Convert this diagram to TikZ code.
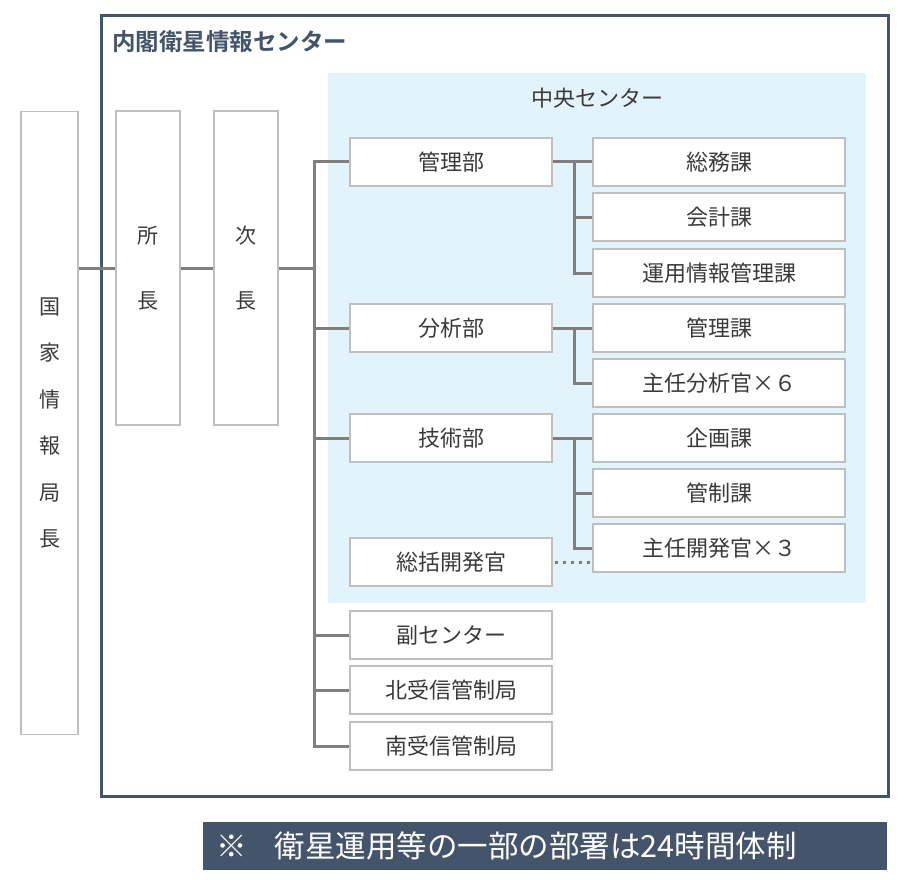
\documentclass[tikz,border=0pt]{standalone}
\usepackage{fontspec}
\setmainfont{Noto Sans CJK JP}
\newfontfamily\jpbold{Noto Sans CJK JP Bold}
\definecolor{navy}{HTML}{44546A}
\definecolor{boxgray}{HTML}{BFBFBF}
\definecolor{conngray}{HTML}{7F7F7F}
\definecolor{lightblue}{HTML}{E2F3FB}
\definecolor{txtgray}{HTML}{3A3A3A}
\begin{document}
\begin{tikzpicture}[x=1pt,y=-1pt,
  boxbase/.style={draw=boxgray, fill=white, line width=1.3pt, inner sep=0pt,
    text=txtgray, font=\fontsize{22}{26}\selectfont},
  midbox/.style={boxbase, minimum width=202pt, minimum height=48pt},
  rbox/.style={boxbase, minimum width=252pt, minimum height=48pt},
  vbox/.style={boxbase, align=center},
  conn/.style={draw=conngray, line width=3pt},
  dotconn/.style={draw=conngray, line width=3pt, dash pattern=on 3.5pt off 4.5pt}]
\useasboundingbox (0,0) rectangle (913,880);
% frames
\draw[navy, line width=3pt] (101,16) rectangle (888,796);
\node[anchor=west, text=navy, font=\jpbold\fontsize{23.5}{26}\selectfont, inner sep=0pt] (title) at (112,42) {内閣衛星情報センター};
\fill[lightblue] (328,73) rectangle (866,603);
\node[text=txtgray, font=\fontsize{22}{26}\selectfont, inner sep=0pt] (chuo) at (597,98) {中央センター};
% vertical boxes
\node[vbox, minimum width=57pt, minimum height=623pt, font=\fontsize{21}{46.5}\selectfont] (kokka) at (49.5,423) {国\\家\\情\\報\\局\\長};
\node[vbox, minimum width=64pt, minimum height=314pt, font=\fontsize{21}{65}\selectfont] (shocho) at (148,268) {所\\長};
\node[vbox, minimum width=64pt, minimum height=314pt, font=\fontsize{21}{65}\selectfont] (jicho) at (246,268) {次\\長};
% middle boxes
\node[midbox] (kanri) at (451,162) {管理部};
\node[midbox] (bunseki) at (451,328) {分析部};
\node[midbox] (gijutsu) at (451,438) {技術部};
\node[midbox] (sokatsu) at (451,562) {総括開発官};
\node[midbox] (fuku) at (451,635) {副センター};
\node[midbox] (kita) at (451,690) {北受信管制局};
\node[midbox] (minami) at (451,746) {南受信管制局};
% right boxes
\node[rbox] (somu) at (719,162) {総務課};
\node[rbox] (kaikei) at (719,217) {会計課};
\node[rbox] (unyo) at (719,273) {運用情報管理課};
\node[rbox] (kanrika) at (719,328) {管理課};
\node[rbox] (shunin6) at (719,383) {主任分析官×６};
\node[rbox] (kikaku) at (719,438) {企画課};
\node[rbox] (kansei) at (719,493) {管制課};
\node[rbox] (shunin3) at (719,548) {主任開発官×３};
% trunk coordinates
\coordinate (tr) at (314,268);
\coordinate (st) at (574,162);
% connectors left
\draw[conn] (kokka.east |- shocho.west) -- (shocho.west);
\draw[conn] (shocho.east) -- (jicho.west);
\draw[conn] (jicho.east) -- (tr);
\draw[conn, line cap=rect] (kanri.west -| tr) -- (minami.west -| tr);
\foreach \n in {kanri,bunseki,gijutsu,fuku,kita,minami}
  \draw[conn] (\n.west -| tr) -- (\n.west);
% sub-trunks
\draw[conn] (kanri.east) -- (somu.west);
\draw[conn] (kanri.east -| st) |- (kaikei.west);
\draw[conn] (kanri.east -| st) |- (unyo.west);
\draw[conn] (bunseki.east) -- (kanrika.west);
\draw[conn] (bunseki.east -| st) |- (shunin6.west);
\draw[conn] (gijutsu.east) -- (kikaku.west);
\draw[conn] (gijutsu.east -| st) |- (kansei.west);
\draw[conn] (gijutsu.east -| st) |- (shunin3.west);
\draw[dotconn] ([xshift=2pt]sokatsu.east) -- (sokatsu.east -| shunin3.west);
% banner
\node[fill=navy, minimum width=684pt, minimum height=48pt, inner sep=0pt] (banner) at (545,846) {};
\node[anchor=west, text=white, inner sep=0pt, font=\fontsize{30.5}{34}\selectfont] (bannertext) at (216,846) {※\hspace{28pt}衛星運用等の一部の部署は24時間体制};
\end{tikzpicture}
\end{document}
